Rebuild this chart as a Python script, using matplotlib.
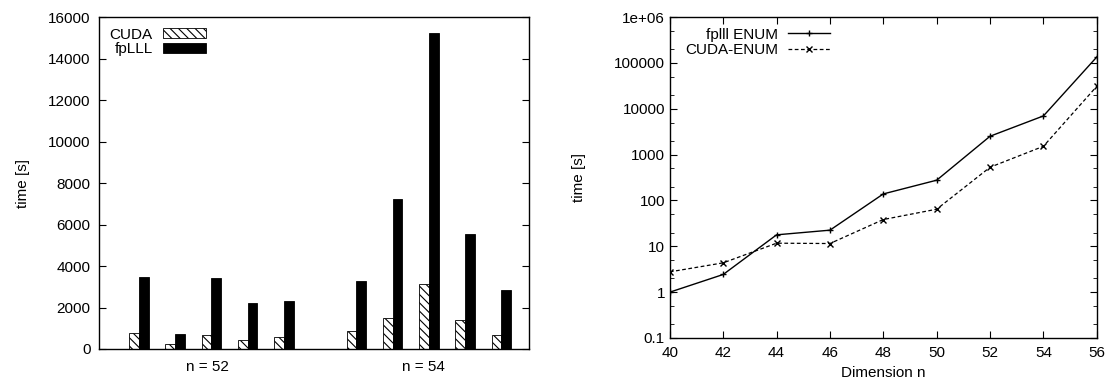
import numpy as np
import matplotlib.pyplot as plt
from matplotlib.ticker import LogLocator, FixedLocator

plt.rcParams['font.family'] = ['Liberation Sans', 'DejaVu Sans']
plt.rcParams['hatch.linewidth'] = 0.8

# left: runtime per instance, two dimensions (five instances each)
group_labels = ["n = 52", "n = 54"]
cuda_times = [755, 225, 675, 430, 565, 865, 1480, 3120, 1400, 675]
fplll_times = [3485, 725, 3440, 2215, 2315, 3275, 7230, 15230, 5545, 2845]

# right: ENUM time vs dimension
dims = [40, 42, 44, 46, 48, 50, 52, 54, 56]
fplll_enum = [1.0, 2.43, 17.8, 22.5, 139, 277, 2520, 6990, 135000]
cuda_enum = [2.77, 4.36, 11.7, 11.5, 38.4, 64.5, 531, 1520, 31000]

fig = plt.figure(figsize=(11.09, 3.82), dpi=100)
ax1 = fig.add_axes([0.0893, 0.0864, 0.3877, 0.869])
ax2 = fig.add_axes([0.604, 0.1152, 0.385, 0.840])

# bar positions: 5 per group with one empty slot between groups
pos = np.array([0, 1, 2, 3, 4, 6, 7, 8, 9, 10], dtype=float)
w = 0.27
ax1.bar(pos - w / 2, cuda_times, w, color="white", edgecolor="black",
        hatch="\\\\\\\\", linewidth=0.6, label="CUDA")
ax1.bar(pos + w / 2, fplll_times, w, color="black", edgecolor="black",
        linewidth=0.6, label="fpLLL")
ax1.set_xlim(-1.1, 10.76)
ax1.set_ylim(0, 16000)
ax1.set_yticks(range(0, 16001, 2000))
ax1.set_xticks([1.88, 7.86])
ax1.set_xticklabels(group_labels)
ax1.tick_params(axis="x", length=0, pad=8, labelsize=11)
ax1.tick_params(axis="y", direction="in", right=True, length=5, labelsize=11, pad=6)
ax1.set_ylabel("time [s]", fontsize=11, labelpad=13)
ax1.legend(loc="upper left", frameon=False, markerfirst=False, fontsize=11,
           handlelength=2.8, handleheight=0.6, borderaxespad=0.3,
           labelspacing=0.05, handletextpad=0.65)

ax2.plot(dims, fplll_enum, color="black", linestyle="-", marker="+",
         markersize=5, linewidth=1.0, label="fplll ENUM")
ax2.plot(dims, cuda_enum, color="black", linestyle=(0, (3, 2)), marker="x",
         markersize=4, linewidth=0.9, label="CUDA-ENUM")
ax2.set_yscale("log")
ax2.set_xlim(40, 56)
ax2.set_ylim(0.1, 1e6)
ax2.set_xticks(dims)
ytick_vals = [0.1, 1, 10, 100, 1000, 10000, 100000, 1e6]
ax2.yaxis.set_major_locator(FixedLocator(ytick_vals))
ax2.set_yticklabels(["0.1", "1", "10", "100", "1000", "10000", "100000", "1e+06"])
ax2.yaxis.set_minor_locator(LogLocator(base=10, subs=(2.0, 5.0), numticks=20))
ax2.yaxis.set_minor_formatter(plt.NullFormatter())
ax2.tick_params(which="both", direction="in", top=True, right=True, labelsize=11)
ax2.tick_params(which="major", length=5)
ax2.tick_params(which="minor", length=3)
ax2.tick_params(axis="x", pad=6)
ax2.set_xlabel("Dimension n", fontsize=11, labelpad=4)
ax2.set_ylabel("time [s]", fontsize=11, labelpad=20)
ax2.legend(loc="upper left", frameon=False, markerfirst=False, fontsize=11,
           handlelength=2.7, borderaxespad=0.3, labelspacing=0.1,
           handletextpad=0.7, bbox_to_anchor=(0.01, 1.0))

for ax in (ax1, ax2):
    for s in ax.spines.values():
        s.set_linewidth(1.0)

fig.savefig("out.png", dpi=100)
